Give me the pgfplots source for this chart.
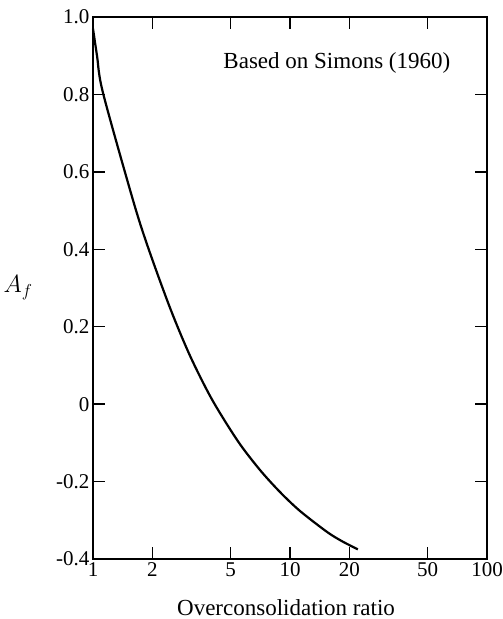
\documentclass[border=0pt]{standalone}
\usepackage{pgfplots}
\pgfplotsset{compat=1.18}
\usepackage{fontspec}
\setmainfont{Liberation Serif}
\begin{document}
\begin{tikzpicture}
\path[use as bounding box] (0,0) rectangle (503pt,619pt);
\begin{axis}[
  at={(93pt,60pt)}, anchor=south west,
  scale only axis, width=394pt, height=542pt,
  xmode=log, xmin=1, xmax=100, ymin=-0.4, ymax=1.0,
  log basis x=10,
  xtick={1,2,5,10,20,50,100}, xticklabels={1,2,5,10,20,50,100},
  minor xtick={},
  ytick={-0.4,-0.2,0,0.2,0.4,0.6,0.8,1.0},
  yticklabels={-0.4,-0.2,0,0.2,0.4,0.6,0.8,1.0},
  tick align=inside, major tick length=12pt,
  tick style={line width=1.5pt, black},
  axis line style={line width=2.5pt},
  ticklabel style={font=\fontsize{21}{24}\selectfont},
  xlabel={Overconsolidation ratio},
  xlabel style={font=\fontsize{23}{26}\selectfont, at={(rel axis cs:0.49,-0.089)}, anchor=center},
  ylabel={$A_f$},
  ylabel style={font=\fontsize{24}{26}\selectfont, rotate=-90, at={(rel axis cs:-0.19,0.5)}, anchor=center},
  clip=false,
]
\addplot[black, line width=2.2pt, smooth] coordinates {
  (1.0,0.97) (1.048,0.90) (1.124,0.804) (1.596,0.527) (1.90,0.406) (2.459,0.249)
  (3.108,0.125) (4.019,0.012) (5.445,-0.096) (7.04,-0.170) (8.896,-0.227)
  (11.24,-0.276) (15.41,-0.330) (18.36,-0.354) (22.1,-0.375)
};
\node[font=\fontsize{23}{26}\selectfont, anchor=center] at (rel axis cs:0.619,0.915) {Based on Simons (1960)};
\end{axis}
\end{tikzpicture}
\end{document}
